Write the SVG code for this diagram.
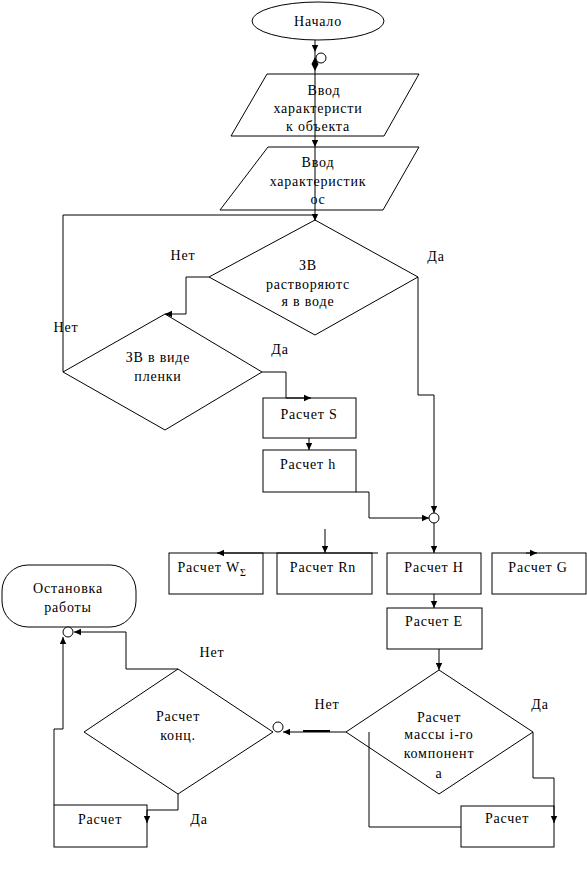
<svg xmlns="http://www.w3.org/2000/svg" width="587" height="869" viewBox="0 0 587 869">
<defs>
<marker id="ar" markerWidth="8" markerHeight="8" refX="7" refY="4" orient="auto" markerUnits="userSpaceOnUse">
<path d="M0,0.8 L7,4 L0,7.2 Z" fill="#000"/>
</marker>
<style>
.s{fill:#fff;stroke:#000;stroke-width:1}
.c{fill:none;stroke:#000;stroke-width:1}
.a{fill:none;stroke:#000;stroke-width:1;marker-end:url(#ar)}
text{font-family:"Liberation Serif","Times New Roman",serif;font-size:14px;letter-spacing:0.8px;fill:#000;text-anchor:middle}
</style>
</defs>
<rect width="587" height="869" fill="#fff"/>

<g id="start">
<ellipse class="s" cx="318" cy="21" rx="66" ry="19"/>
<text x="318" y="26">Начало</text>
</g>
<g id="input1">
<polygon class="s" points="267,74 419,74 384,136 231,136"/>
<text x="324" y="95">Ввод</text>
<text x="318" y="113">характеристи</text>
<text x="318" y="131">к объекта</text>
</g>
<g id="input2">
<polygon class="s" points="268,147 419,147 383,210 220,210"/>
<text x="318" y="167">Ввод</text>
<text x="318" y="186">характеристик</text>
<text x="318" y="204">ос</text>
</g>
<g id="dec1">
<polygon class="s" points="315,220 418,277 315,335 209,277"/>
<text x="308" y="270">ЗВ</text>
<text x="308" y="289">растворяютс</text>
<text x="308" y="306">я в воде</text>
</g>
<g id="dec2">
<polygon class="s" points="165,314 262,372 165,430 63,372"/>
<text x="158" y="362">ЗВ в виде</text>
<text x="158" y="381">пленки</text>
</g>
<g id="calcS">
<rect class="s" x="263" y="398" width="93" height="40"/>
<text x="309" y="419">Расчет S</text>
</g>
<g id="calcH_small">
<rect class="s" x="263" y="450" width="93" height="42"/>
<text x="308" y="469">Расчет h</text>
</g>
<g id="calcW">
<rect class="s" x="169" y="553" width="94" height="41"/>
<text x="212" y="572">Расчет W<tspan font-size="10" dy="4">Σ</tspan></text>
</g>
<g id="calcRn">
<rect class="s" x="277" y="553" width="95" height="41"/>
<text x="323" y="572">Расчет Rn</text>
</g>
<g id="calcH">
<rect class="s" x="387" y="553" width="94" height="41"/>
<text x="434" y="572">Расчет H</text>
</g>
<g id="calcG">
<rect class="s" x="492" y="553" width="94" height="41"/>
<text x="538" y="572">Расчет G</text>
</g>
<g id="calcE">
<rect class="s" x="387" y="608" width="95" height="41"/>
<text x="434" y="626">Расчет E</text>
</g>
<g id="dec3">
<polygon class="s" points="439,670 533,732 439,794 346,732"/>
<text x="439" y="722">Расчет</text>
<text x="439" y="739">массы i-го</text>
<text x="439" y="758">компонент</text>
<text x="439" y="778">а</text>
</g>
<g id="calcR">
<rect class="s" x="461" y="806" width="93" height="41"/>
<text x="507" y="823">Расчет</text>
</g>
<g id="dec4">
<polygon class="s" points="178,669 273,732 178,794 84,732"/>
<text x="178" y="721">Расчет</text>
<text x="178" y="740">конц.</text>
</g>
<g id="calcL">
<rect class="s" x="54" y="805" width="93" height="42"/>
<text x="100" y="824">Расчет</text>
</g>
<g id="stop">
<rect class="s" x="2" y="565" width="134" height="62" rx="26" ry="26"/>
<text x="68" y="593">Остановка</text>
<text x="68" y="612">работы</text>
</g>

<g id="connectors">
<path class="a" d="M315,40 V52"/>
<path class="c" d="M315,52 V74"/>
<circle class="s" cx="321" cy="58" r="5"/>
<polygon points="315,57 318.5,64 315,71 311.5,64" fill="#000"/>
<path class="a" d="M315,74 V147"/>
<path class="a" d="M315,147 V221"/>
<path class="c" d="M63,372 V215 H315"/>
<path class="a" d="M209,277 H186 V314 H165"/>
<path class="a" d="M262,372 H286 V398 H311"/>
<path class="a" d="M309,438 V450"/>
<path class="a" d="M356,492 H369 V518 H429"/>
<path class="a" d="M418,277 V395 H434 V513"/>
<circle class="s" cx="434" cy="518" r="5"/>
<path class="a" d="M434,523 V553"/>
<path class="a" d="M378,553 H217"/>
<path class="a" d="M325,529 V553"/>
<path class="a" d="M526,553 H537"/>
<path class="a" d="M434,594 V608"/>
<path class="a" d="M439,649 V670"/>
<path class="a" d="M346,732 H283"/>
<path d="M303,731 H330" stroke="#000" stroke-width="2" fill="none"/>
<circle class="s" cx="278" cy="727" r="5"/>
<path class="c" d="M461,827 H369 V732"/>
<path class="a" d="M533,732 V778 H554 V823"/>
<path class="a" d="M178,669 H126 V632 H74"/>
<circle class="s" cx="68" cy="632" r="5"/>
<path class="a" d="M178,794 V810 H147 V823"/>
<path class="a" d="M54,805 V729 H63 V637"/>
</g>

<g id="labels">
<text x="183" y="260">Нет</text>
<text x="436" y="261">Да</text>
<text x="66" y="332">Нет</text>
<text x="280" y="354">Да</text>
<text x="327" y="709">Нет</text>
<text x="540" y="709">Да</text>
<text x="212" y="657">Нет</text>
<text x="199" y="824">Да</text>
</g>
</svg>
